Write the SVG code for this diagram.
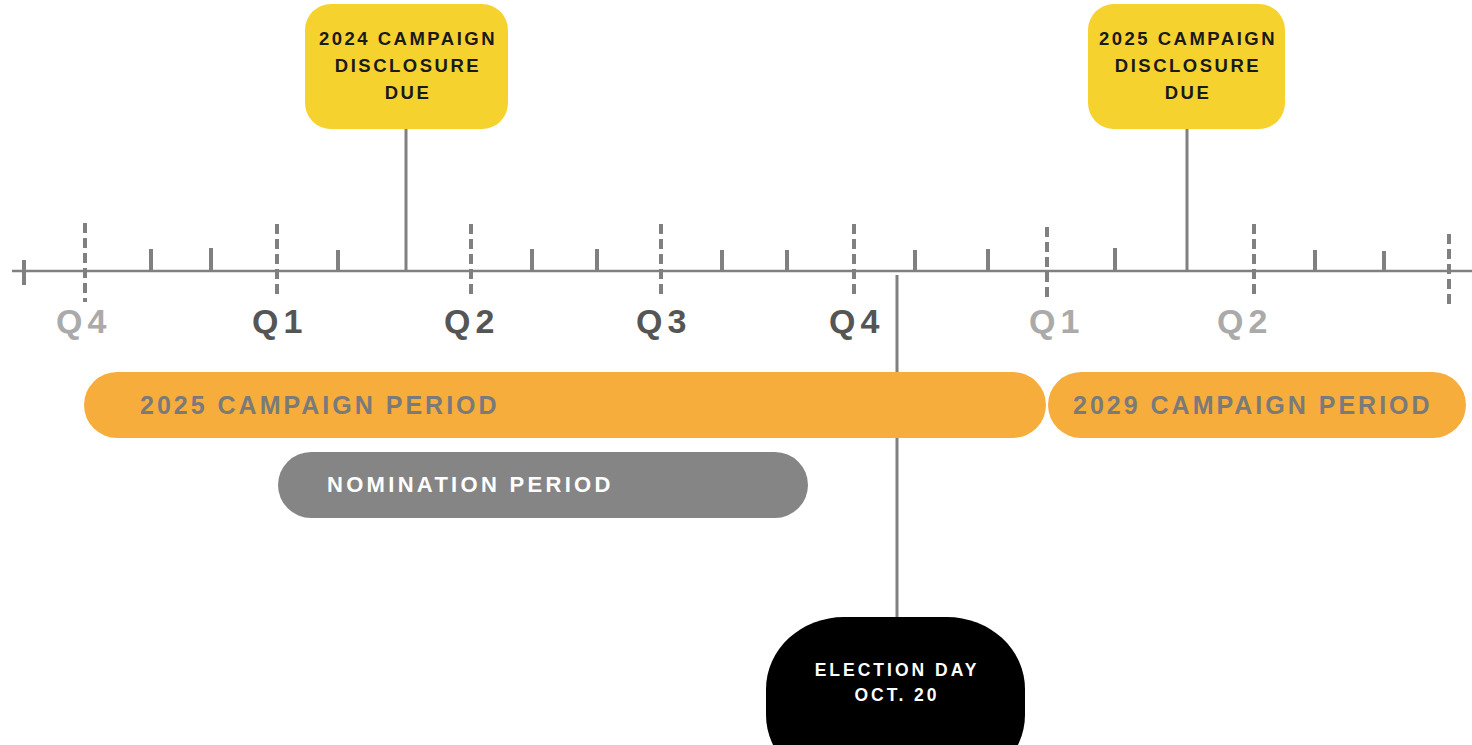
<svg xmlns="http://www.w3.org/2000/svg" width="1472" height="745" viewBox="0 0 1472 745">
<style>
.tick{stroke:#808080;stroke-width:4}
.dash{stroke:#808080;stroke-width:4;stroke-dasharray:10 5}
.conn{stroke:#808080;stroke-width:3;fill:none}
.q{font-family:"Liberation Sans",Arial,sans-serif;font-weight:bold;font-size:34px;letter-spacing:5px}
.qd{fill:#555555}
.ql{fill:#aaaaaa}
.box{font-family:"Liberation Sans",Arial,sans-serif;font-weight:bold;font-size:18.5px;letter-spacing:2.5px;fill:#1a1a1a;text-anchor:middle}
.bar{font-family:"Liberation Sans",Arial,sans-serif;font-weight:bold;font-size:25px;letter-spacing:3px;fill:#7a7a7a}
.nom{font-family:"Liberation Sans",Arial,sans-serif;font-weight:bold;font-size:22px;letter-spacing:3.3px;fill:#ffffff}
.elec{font-family:"Liberation Sans",Arial,sans-serif;font-weight:bold;font-size:17.5px;letter-spacing:3px;fill:#ffffff;text-anchor:middle}
</style>
<rect width="1472" height="745" fill="#ffffff"/>
<g id="connectors">
<line class="conn" x1="406" y1="128" x2="406" y2="271"/>
<line class="conn" x1="1187" y1="128" x2="1187" y2="271"/>
<line class="conn" x1="897" y1="275" x2="897" y2="620"/>
</g>
<g id="axis">
<line x1="12" y1="271" x2="1472" y2="271" stroke="#808080" stroke-width="2.5"/>
<line class="tick" x1="24" y1="260" x2="24" y2="285"/>
<g class="tick">
<line x1="151" y1="249" x2="151" y2="271"/>
<line x1="211" y1="248" x2="211" y2="271"/>
<line x1="338" y1="250" x2="338" y2="271"/>
<line x1="532" y1="249" x2="532" y2="271"/>
<line x1="597" y1="249" x2="597" y2="271"/>
<line x1="722" y1="250" x2="722" y2="271"/>
<line x1="787" y1="250" x2="787" y2="271"/>
<line x1="915" y1="250" x2="915" y2="271"/>
<line x1="988" y1="249" x2="988" y2="271"/>
<line x1="1115" y1="248" x2="1115" y2="271"/>
<line x1="1315" y1="250" x2="1315" y2="271"/>
<line x1="1384" y1="251" x2="1384" y2="271"/>
</g>
<g class="dash">
<line x1="85" y1="223" x2="85" y2="302"/>
<line x1="277" y1="224" x2="277" y2="298"/>
<line x1="471" y1="224" x2="471" y2="298"/>
<line x1="661" y1="224" x2="661" y2="298"/>
<line x1="854" y1="224" x2="854" y2="298"/>
<line x1="1047" y1="227" x2="1047" y2="298"/>
<line x1="1254" y1="224" x2="1254" y2="298"/>
<line x1="1449" y1="234" x2="1449" y2="307"/>
</g>
<text class="q ql" x="56" y="333">Q4</text>
<text class="q qd" x="252" y="333">Q1</text>
<text class="q qd" x="444" y="333">Q2</text>
<text class="q qd" x="636" y="333">Q3</text>
<text class="q qd" x="829" y="333">Q4</text>
<text class="q ql" x="1029" y="333">Q1</text>
<text class="q ql" x="1217" y="333">Q2</text>
</g>
<g id="campaign2025">
<rect x="84" y="372" width="962" height="66" rx="33" fill="#f7ad3c"/>
<text class="bar" x="140" y="414">2025 CAMPAIGN PERIOD</text>
</g>
<g id="campaign2029">
<rect x="1048" y="372" width="418" height="66" rx="33" fill="#f7ad3c"/>
<text class="bar" x="1073" y="414">2029 CAMPAIGN PERIOD</text>
</g>
<g id="nomination">
<rect x="278" y="452" width="530" height="66" rx="33" fill="#858585"/>
<text class="nom" x="327" y="492">NOMINATION PERIOD</text>
</g>
<g id="disclosure2024">
<rect x="305" y="4" width="203" height="125" rx="26" fill="#f6d22f"/>
<text class="box" x="408" y="45">2024 CAMPAIGN</text>
<text class="box" x="408" y="72">DISCLOSURE</text>
<text class="box" x="408" y="99">DUE</text>
</g>
<g id="disclosure2025">
<rect x="1088" y="4" width="197" height="125" rx="26" fill="#f6d22f"/>
<text class="box" x="1188" y="45">2025 CAMPAIGN</text>
<text class="box" x="1188" y="72">DISCLOSURE</text>
<text class="box" x="1188" y="99">DUE</text>
</g>
<g id="election">
<rect x="766" y="617" width="259" height="170" rx="78" ry="72" fill="#000000"/>
<text class="elec" x="897" y="676">ELECTION DAY</text>
<text class="elec" x="897" y="701">OCT. 20</text>
</g>
</svg>
